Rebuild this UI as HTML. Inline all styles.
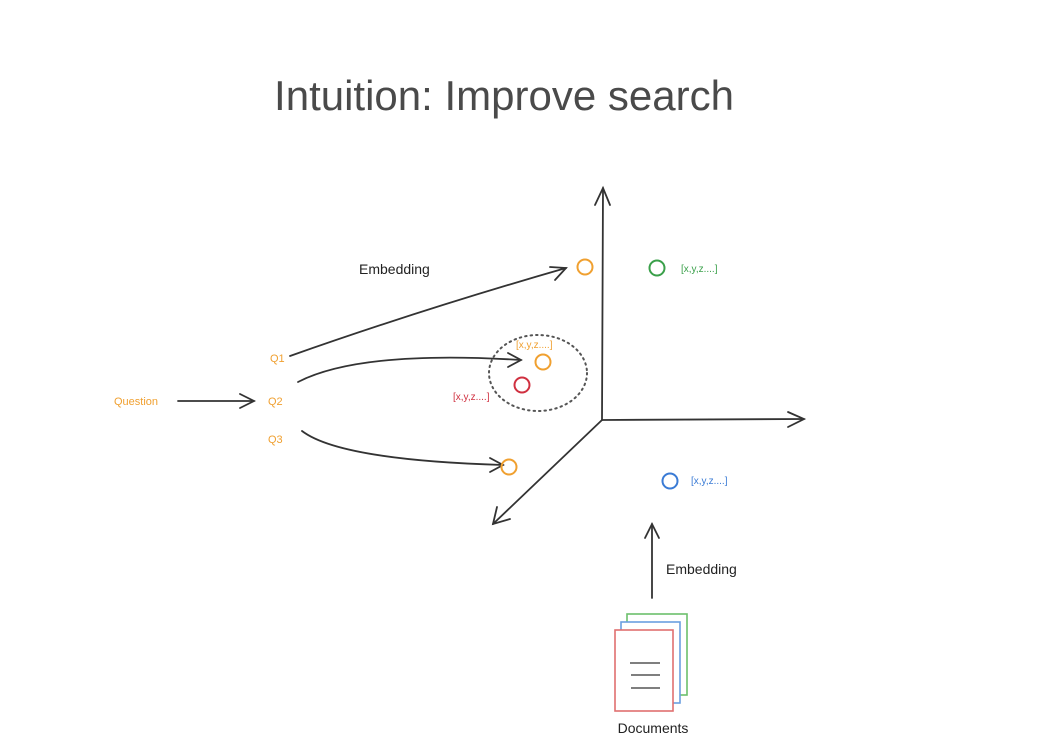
<!DOCTYPE html>
<html><head><meta charset="utf-8"><style>
html,body{margin:0;padding:0;background:#fff;width:1044px;height:752px;overflow:hidden}
svg{display:block}
text{font-family:"Liberation Sans",sans-serif}
</style></head><body>
<svg width="1044" height="752" viewBox="0 0 1044 752" xmlns="http://www.w3.org/2000/svg">
<text x="504" y="110" text-anchor="middle" font-size="42" fill="#4a4a4a">Intuition: Improve search</text>
<g stroke="#333" stroke-width="1.8" fill="none" stroke-linecap="round">
 <path d="M602 420 L603 188"/><path d="M595 205 L603 188 L610 205"/>
 <path d="M602 420 L804 419"/><path d="M788 412 L804 419 L788 427"/>
 <path d="M602 420 L493 524"/><path d="M497 507 L493 524 L510 519"/>
 <path d="M178 401 L254 401"/><path d="M240 394 L254 401 L240 408"/>
 <path d="M290 356 Q420 310 566 268"/><path d="M550 267 L566 268 L555 280"/>
 <path d="M298 382 Q360 350 521 360"/><path d="M508 353 L521 360 L508 367"/>
 <path d="M302 431 Q340 460 503 465"/><path d="M490 458 L503 465 L490 472"/>
 <path d="M652 598 L652 524"/><path d="M645 538 L652 524 L659 538"/>
</g>
<ellipse cx="538" cy="373" rx="49" ry="38" fill="none" stroke="#555" stroke-width="2" stroke-dasharray="1.5 4" stroke-linecap="round"/>
<g fill="none" stroke-width="2">
 <circle cx="585" cy="267" r="7.5" stroke="#f0a030"/>
 <circle cx="657" cy="268" r="7.5" stroke="#3aa04a"/>
 <circle cx="543" cy="362" r="7.5" stroke="#f0a030"/>
 <circle cx="522" cy="385" r="7.5" stroke="#d03040"/>
 <circle cx="509" cy="467" r="7.5" stroke="#f0a030"/>
 <circle cx="670" cy="481" r="7.5" stroke="#3a7bd5"/>
</g>
<g font-size="10">
 <text x="681" y="272" fill="#3aa04a">[x,y,z....]</text>
 <text x="516" y="348" fill="#f0a030">[x,y,z....]</text>
 <text x="453" y="400" fill="#d03040">[x,y,z....]</text>
 <text x="691" y="484" fill="#3a7bd5">[x,y,z....]</text>
 <text x="114" y="405" fill="#f0a030" font-size="11">Question</text>
 <text x="270" y="362" fill="#f0a030" font-size="11">Q1</text>
 <text x="268" y="405" fill="#f0a030" font-size="11">Q2</text>
 <text x="268" y="443" fill="#f0a030" font-size="11">Q3</text>
</g>
<text x="359" y="274" font-size="14" fill="#222">Embedding</text>
<text x="666" y="574" font-size="14" fill="#222">Embedding</text>
<g fill="#fff" stroke-width="1.6">
 <rect x="627" y="614" width="60" height="81" stroke="#6cbf6c"/>
 <rect x="621" y="622" width="59" height="81" stroke="#6a9fe0"/>
 <rect x="615" y="630" width="58" height="81" stroke="#e07070"/>
</g>
<g stroke="#555" stroke-width="1.6">
 <line x1="630" y1="663" x2="660" y2="663"/>
 <line x1="631" y1="675" x2="660" y2="675"/>
 <line x1="631" y1="688" x2="660" y2="688"/>
</g>
<text x="653" y="733" text-anchor="middle" font-size="14" fill="#222">Documents</text>
</svg>
</body></html>
